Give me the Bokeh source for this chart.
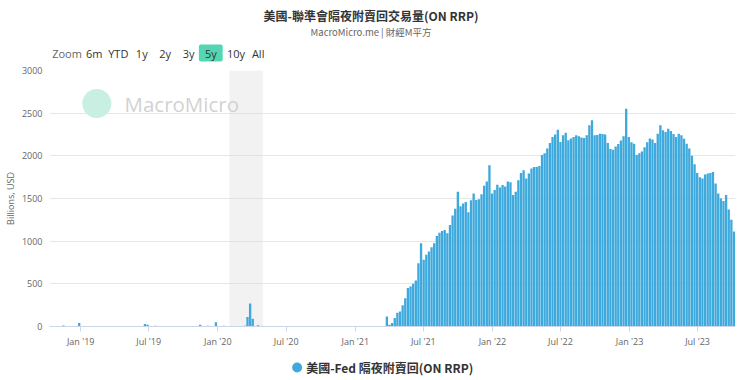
import math
import pandas as pd
from bokeh.plotting import figure
from bokeh.layouts import column
from bokeh.models import (Label, BoxAnnotation, FixedTicker, Range1d)
from bokeh.embed import file_html
from bokeh.resources import INLINE

# ---------------- data ----------------
title_text = "美國-聯準會隔夜附賣回交易量(ON RRP)"
subtitle_text = "MacroMicro.me | 財經M平方"
series_name = "美國-Fed 隔夜附賣回(ON RRP)"
y_axis_title = "Billions, USD"
watermark_text = "MacroMicro"
range_buttons = ["Zoom", "6m", "YTD", "1y", "2y", "3y", "5y", "10y", "All"]
selected_button = "5y"

week_start = "2018-10-12"   # weekly observations
rrp_values = [
    0, 0, 0, 0, 0, 12, 0, 0, 0, 0,
    0, 40, 0, 0, 0, 0, 0, 0, 0, 0,
    0, 0, 0, 0, 0, 0, 0, 0, 0, 0,
    0, 0, 0, 0, 0, 0, 30, 20, 0, 0,
    10, 0, 0, 0, 5, 0, 0, 0, 5, 0,
    0, 0, 0, 5, 0, 0, 0, 20, 0, 0,
    10, 0, 0, 50, 0, 0, 8, 0, 0, 0,
    5, 0, 0, 0, 10, 110, 270, 90, 0, 15,
    0, 0, 5, 0, 0, 0, 0, 0, 0, 0,
    0, 0, 0, 0, 0, 0, 0, 0, 0, 0,
    0, 0, 0, 0, 0, 0, 0, 0, 0, 0,
    0, 0, 0, 0, 0, 0, 0, 0, 0, 0,
    0, 0, 0, 0, 0, 0, 5, 5, 117, 20,
    40, 100, 160, 175, 250, 330, 450, 470, 500, 540,
    740, 976, 782, 840, 880, 930, 977, 1060, 1100, 1120,
    1130, 1093, 1190, 1300, 1380, 1580, 1410, 1440, 1460, 1340,
    1480, 1560, 1482, 1490, 1550, 1650, 1700, 1890, 1560, 1600,
    1660, 1630, 1657, 1640, 1700, 1690, 1540, 1580, 1715, 1800,
    1830, 1735, 1793, 1852, 1870, 1870, 1880, 2010, 2030, 2085,
    2150, 2220, 2250, 2307, 2162, 2240, 2270, 2182, 2202, 2221,
    2240, 2230, 2215, 2210, 2240, 2357, 2416, 2240, 2245, 2260,
    2255, 2250, 2150, 2080, 2070, 2110, 2140, 2180, 2230, 2552,
    2221, 2160, 2143, 2010, 2030, 2050, 2100, 2160, 2202, 2190,
    2150, 2260, 2357, 2299, 2280, 2318, 2290, 2255, 2221, 2260,
    2240, 2200, 2143, 2085, 2000, 1900, 1800, 1750, 1735, 1780,
    1793, 1800, 1812, 1677, 1560, 1500, 1470, 1540, 1370, 1250,
    1112,
]

x_tick_dates = ["2019-01-01", "2019-07-01", "2020-01-01", "2020-07-01", "2021-01-01",
                "2021-07-01", "2022-01-01", "2022-07-01", "2023-01-01", "2023-07-01"]
x_tick_labels = ["Jan '19", "Jul '19", "Jan '20", "Jul '20", "Jan '21",
                 "Jul '21", "Jan '22", "Jul '22", "Jan '23", "Jul '23"]
y_ticks = [0, 500, 1000, 1500, 2000, 2500, 3000]
view_start, view_end = "2018-10-10", "2023-10-10"
recession_start, recession_end = "2020-02-01", "2020-04-30"
watermark_anchor = ("2019-02-13", 2614)

# ---------------- styling ----------------
BAR = "#3ea9dc"
LATIN = "Open Sans"
CJK = "Noto Sans CJK TC"
W = 740
LEFT, RIGHT = 48, 5      # frame borders shared by every panel of the column


def blank(height):
    # frame spans page x 48..735; x data units equal page pixels
    f = figure(width=W, height=height, output_backend="svg", toolbar_location=None,
               x_range=Range1d(LEFT, W - RIGHT), y_range=Range1d(height, 0),
               x_axis_location=None, y_axis_location=None,
               min_border_left=LEFT, min_border_right=RIGHT,
               min_border_top=0, min_border_bottom=0)
    f.outline_line_color = None
    f.grid.visible = False
    f.background_fill_color = "white"
    f.border_fill_color = "white"
    return f


def ms(d):
    return pd.Timestamp(d).value / 1e6


# ---------------- header: title, subtitle, range selector ----------------
head = blank(62)
head.add_layout(Label(x=370, y=15, text=title_text, text_align="center",
                      text_baseline="middle", text_font=CJK, text_font_size="12px",
                      text_font_style="bold", text_color="#333333"))
head.add_layout(Label(x=370, y=31, text=subtitle_text, text_align="center",
                      text_baseline="middle", text_font=CJK, text_font_size="9.5px",
                      text_color="#666666"))
btn_x = [50.7, 84.5, 106.8, 134.5, 157.8, 181.4, 197.6, 225.7, 250.7]
for name, bx in zip(range_buttons, btn_x):
    kw = {}
    if name == selected_button:
        kw = dict(background_fill_color="#55d6b2", padding=dict(x=6, y=1), border_radius=2)
    head.add_layout(Label(x=bx, y=52.5, text=name, text_align="left",
                          text_baseline="middle", text_font=LATIN, text_font_size="11px",
                          text_color="#666666" if name == "Zoom" else "#333333", **kw))

# ---------------- main chart ----------------
dates = pd.date_range(week_start, periods=len(rrp_values), freq="7D")

p = figure(width=W, height=288, x_axis_type="datetime",
           output_backend="svg", toolbar_location=None,
           x_range=Range1d(ms(view_start), ms(view_end)),
           y_range=Range1d(0, 3000),
           min_border_left=LEFT, min_border_right=RIGHT,
           min_border_top=8, min_border_bottom=23)
p.outline_line_color = None
p.background_fill_color = "white"
p.border_fill_color = "white"

p.add_layout(BoxAnnotation(left=ms(recession_start), right=ms(recession_end),
                           fill_color="#dcdcdc", fill_alpha=0.38,
                           line_color=None, level="underlay"))

p.xgrid.visible = False
p.ygrid.grid_line_color = "#e6e6e6"

p.vbar(x=dates, top=rrp_values, width=6.2 * 86400000, color=BAR, line_color=None)

p.yaxis.ticker = FixedTicker(ticks=y_ticks)
p.yaxis.axis_line_color = None
p.yaxis.major_tick_line_color = None
p.yaxis.major_tick_out = 0
p.yaxis.major_tick_in = 0
p.yaxis.minor_tick_line_color = None
p.yaxis.minor_tick_out = 0
p.yaxis.major_label_standoff = 7
p.yaxis.major_label_text_font = LATIN
p.yaxis.major_label_text_font_size = "9px"
p.yaxis.major_label_text_color = "#666666"
p.yaxis.axis_label = y_axis_title
p.yaxis.axis_label_standoff = 2
p.yaxis.axis_label_text_font = LATIN
p.yaxis.axis_label_text_font_size = "9px"
p.yaxis.axis_label_text_font_style = "normal"
p.yaxis.axis_label_text_color = "#666666"

p.xaxis.ticker = FixedTicker(ticks=[ms(d) for d in x_tick_dates])
p.xaxis.major_label_overrides = {ms(d): lab for d, lab in zip(x_tick_dates, x_tick_labels)}
p.xaxis.axis_line_color = "#ccd6eb"
p.xaxis.major_tick_line_color = "#ccd6eb"
p.xaxis.major_tick_out = 5
p.xaxis.major_tick_in = 0
p.xaxis.minor_tick_line_color = None
p.xaxis.minor_tick_out = 0
p.xaxis.major_label_standoff = 3
p.xaxis.major_label_text_font = LATIN
p.xaxis.major_label_text_font_size = "9px"
p.xaxis.major_label_text_color = "#666666"

# watermark
p.scatter(x=[ms(watermark_anchor[0])], y=[watermark_anchor[1]], size=29,
          color="#c9efe3", line_color=None)
p.add_layout(Label(x=75, y=223, x_units="screen", y_units="screen", text=watermark_text,
                   text_align="left", text_baseline="middle", text_font=LATIN,
                   text_font_size="20.5px", text_color="#d2d2d2"))

# ---------------- legend ----------------
foot = blank(30)
foot.scatter(x=[296], y=[17], size=10, color=BAR, line_color=None)
foot.add_layout(Label(x=305, y=17, text=series_name, text_align="left",
                      text_baseline="middle", text_font=CJK, text_font_size="12px",
                      text_font_style="bold", text_color="#333333"))

layout = column(head, p, foot, spacing=0)
open("out.html", "w").write(file_html(layout, INLINE))
